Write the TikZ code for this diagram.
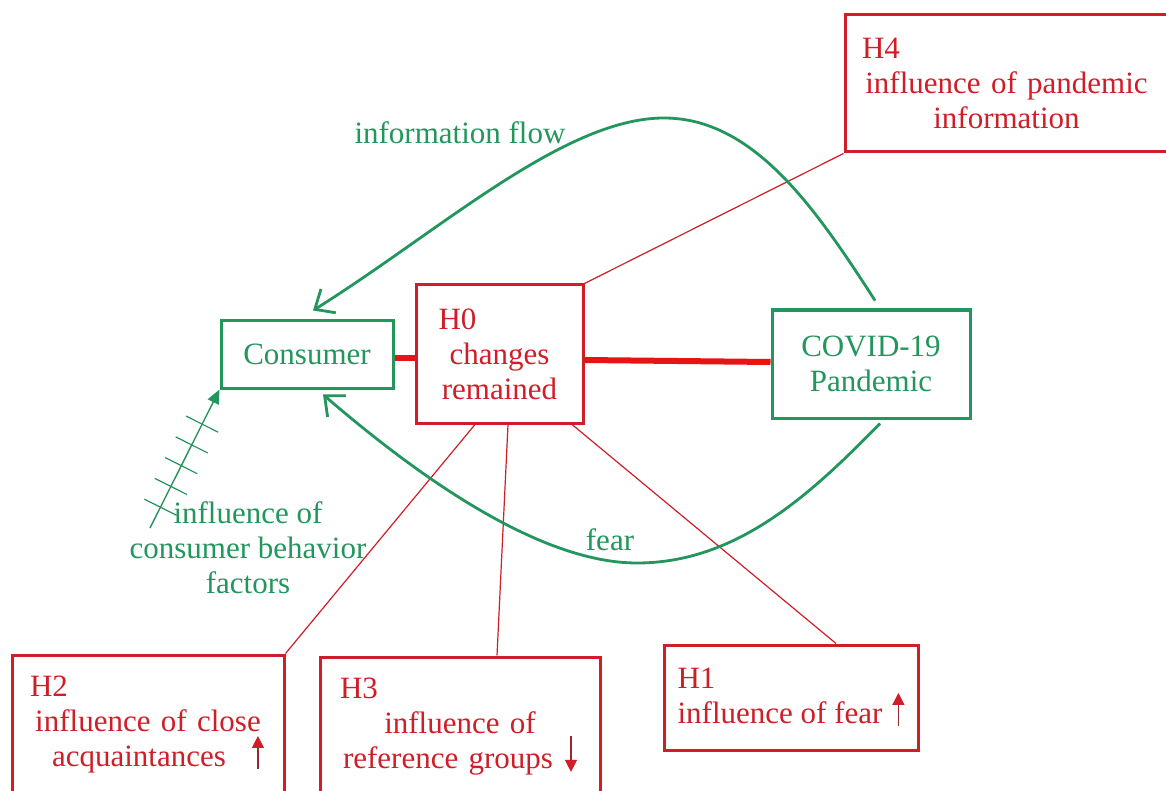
\documentclass[tikz,border=0pt]{standalone}
\usepackage{fontspec}
\setmainfont{Liberation Serif}
\usetikzlibrary{arrows.meta,calc,positioning}

\definecolor{agentgreen}{RGB}{34,150,92}
\definecolor{hypred}{RGB}{208,30,40}
\definecolor{bondred}{RGB}{232,20,20}
\definecolor{stemred}{RGB}{150,40,50}

\newcommand{\hname}[1]{\makebox[\linewidth][l]{#1}\\}
\newcommand{\uparr}{\tikz[baseline=0pt,x=1pt,y=1pt]\draw[line width=1.3pt,stemred,-{Triangle[length=12pt,width=12pt,color=hypred]}] (0,-2) -- (0,31);}
\newcommand{\downarr}{\tikz[baseline=0pt,x=1pt,y=1pt]\draw[line width=1.3pt,stemred,-{Triangle[length=12pt,width=12pt,color=hypred]}] (0,33) -- (0,-3);}

\begin{document}
\begin{tikzpicture}[x=1pt,y=-1pt,>={Straight Barb[length=16pt,width=28pt]},
    font=\fontsize{31}{35}\selectfont,
    agent/.style={draw=agentgreen,text=agentgreen,line width=3pt,align=center},
    hyp/.style={draw=hypred,text=hypred,line width=3pt,align=center},
    bond/.style={bondred,line width=6pt},
    tie/.style={hypred,line width=1.2pt},
    flow/.style={->,agentgreen,line width=2.8pt},
    lbl/.style={text=agentgreen,align=center}]
\path[fill=white,use as bounding box] (0,0) rectangle (1166,791);

% actors
\node[agent,minimum width=172pt,minimum height=68pt]  (consumer) at (307,354) {Consumer};
\node[agent,minimum width=198pt,minimum height=108pt] (covid)    at (871,364) {COVID-19\\Pandemic};

% hypotheses
\node[hyp,text width=122pt,minimum width=167pt,minimum height=138pt] (h0) at (499.5,354) {\hname{H0}changes\\remained};
\node[hyp,text width=289pt,minimum width=323pt,minimum height=137pt] (h4) at (1006.5,83.5) {\hname{H4}influence of pandemic\\information};
\node[hyp,text width=236pt,minimum width=272pt,minimum height=140pt] (h2) at (148,725) {\hname{H2}influence of close\\\hspace*{20pt}acquaintances\hspace{26pt}\uparr};
\node[hyp,text width=240pt,minimum width=280pt,minimum height=140pt] (h3) at (460,727) {\hname{H3}influence of\\reference groups\hspace{12pt}\downarr};
\node[hyp,align=left,minimum width=254pt,minimum height=105pt] (h1) at (791,697.5) {H1\\influence of fear\hspace{10pt}\uparr};

\draw[bond] ([yshift=-4pt]consumer.east) -- ([yshift=-4pt]h0.west);
\draw[bond] ([yshift=-6pt]h0.east) -- ([yshift=2pt]covid.west);

\path (h0.north east) edge[tie] (h4.south west)
      ([xshift=-24.5pt]h0.south) edge[tie] (h2.north east)
      ([xshift=8.5pt]h0.south) edge[tie] ([xshift=37pt]h3.north)
      ([xshift=72.5pt]h0.south) edge[tie] ([xshift=45pt]h1.north);

% flows between actors
\draw[flow] ([xshift=4pt,yshift=8pt]covid.north) .. controls (816,209) and (754,118) .. (664,118)
    .. controls (564,118) and (440,231) .. ([xshift=6pt,yshift=8pt]consumer.north);
\node[lbl] (infolbl) at (460,133) {information flow};

\draw[flow] ([xshift=9pt,yshift=-4pt]covid.south) .. controls (811,494) and (737,563) .. (637,563)
    .. controls (537,563) and (413,472) .. ([xshift=16pt,yshift=-5pt]consumer.south);
\node[lbl] (fearlbl) at (610,540) {fear};

% behaviour factors
\coordinate (inftail) at (150,528);
\draw[agentgreen,line width=1.4pt,-{Triangle[length=14pt,width=12pt]}] (inftail) -- (consumer.south west);
\foreach \t in {0.15,0.3,0.45,0.6,0.75}
  \draw[agentgreen,line width=1.2pt] ($(inftail)!\t!(consumer.south west)!18pt!90:(consumer.south west)$)
    -- ($(inftail)!\t!(consumer.south west)!18pt!-90:(consumer.south west)$);
\node[lbl] (factlbl) at (248,548) {influence of\\consumer behavior\\factors};
\end{tikzpicture}
\end{document}
